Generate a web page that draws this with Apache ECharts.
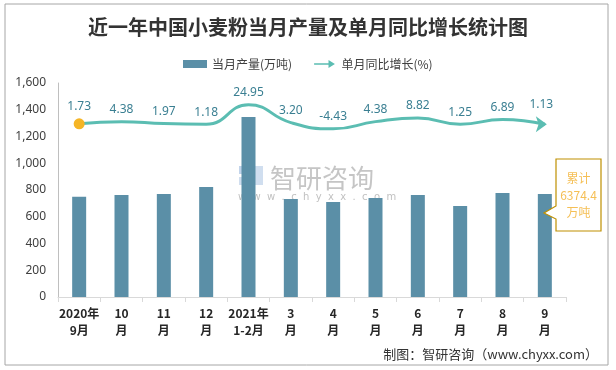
<!DOCTYPE html>
<html>
<head>
<meta charset="utf-8">
<script src="https://cdn.jsdelivr.net/npm/echarts@6/dist/echarts.min.js"></script>
<style>
html,body{margin:0;padding:0;background:#fff;}
#chart{width:616px;height:370px;}
</style>
</head>
<body>
<div id="chart"></div>
<script>
var categories = ['2020年\n9月','10\n月','11\n月','12\n月','2021年\n1-2月','3\n月','4\n月','5\n月','6\n月','7\n月','8\n月','9\n月'];
var production = [750, 762, 770, 822, 1346, 733, 710, 740, 762, 680, 778, 770];
var growth = [1.73, 4.38, 1.97, 1.18, 24.95, 3.20, -4.43, 4.38, 8.82, 1.25, 6.89, 1.13];
var yTicks = [0, 200, 400, 600, 800, 1000, 1200, 1400, 1600];
var cumulativeText = '累计\n6374.4\n万吨';

var CJK = '"Noto Sans CJK SC", "Noto Sans", sans-serif';
var lineColor = '#5BBDB2';
var barColor = '#5B8FA7';

var lineData = growth.map(function (v, i) {
  if (i === 0) return { value: v, symbol: 'circle', symbolSize: 11, itemStyle: { color: '#F5B526' } };
  if (i === growth.length - 1) return { value: v, symbol: 'arrow', symbolSize: [12, 11], symbolRotate: -90, symbolOffset: [2, 0], itemStyle: { color: lineColor } };
  return { value: v, symbol: 'circle', symbolSize: 0 };
});

var chart = echarts.init(document.getElementById('chart'));
chart.setOption({
  animation: false,
  backgroundColor: '#fff',
  title: {
    text: '近一年中国小麦粉当月产量及单月同比增长统计图',
    left: 'center', top: 12,
    textStyle: { fontFamily: CJK, fontSize: 20, fontWeight: 'bold', color: '#333' }
  },
  legend: {
    top: 53, left: 178,
    itemGap: 22, itemWidth: 24, itemHeight: 8,
    textStyle: { fontFamily: CJK, fontSize: 12, color: '#404040' },
    data: [
      { name: '当月产量(万吨)', icon: 'rect' },
      { name: '单月同比增长(%)', icon: 'path://M0,4 L18,4 L18,0 L26,5 L18,10 L18,6 L0,6 Z' }
    ]
  },
  grid: { left: 58, right: 50, top: 83, bottom: 73 },
  xAxis: {
    type: 'category',
    data: categories,
    axisLine: { lineStyle: { color: '#d9d9d9' } },
    axisTick: { show: true, length: 5, lineStyle: { color: '#d9d9d9' } },
    axisLabel: { interval: 0, fontFamily: CJK, fontSize: 12, fontWeight: 'bold', color: '#262626', lineHeight: 17, margin: 8 }
  },
  yAxis: [{
    type: 'value', min: yTicks[0], max: yTicks[yTicks.length - 1], interval: 200,
    axisLine: { show: true, lineStyle: { color: '#bfbfbf' } },
    axisTick: { show: false },
    splitLine: { show: false },
    axisLabel: {
      fontFamily: '"Noto Sans", sans-serif', fontSize: 12, color: '#404040', margin: 12,
      formatter: function (v) { return v.toLocaleString('en-US'); }
    }
  }, {
    type: 'value', min: -210, max: 51.6, show: false, splitLine: { show: false }
  }],
  series: [{
    name: '当月产量(万吨)',
    type: 'bar',
    data: production,
    barWidth: 14,
    itemStyle: { color: barColor },
    z: 3
  }, {
    name: '单月同比增长(%)',
    type: 'line',
    yAxisIndex: 1,
    data: lineData,
    smooth: 0.5,
    lineStyle: { color: lineColor, width: 3 },
    itemStyle: { color: lineColor },
    label: {
      show: true, position: 'top', distance: 6,
      fontFamily: '"Noto Sans", sans-serif', fontSize: 12, color: '#3A7F92',
      formatter: function (p) { return p.value.toFixed(2); }
    },
    z: 4
  }],
  graphic: [
    { type: 'rect', shape: { x: 5, y: 4, width: 603, height: 361 }, style: { fill: 'none', stroke: '#a6a6a6', lineWidth: 1 }, z: -10, silent: true },
    { type: 'rect', shape: { x: 239, y: 166, width: 10, height: 8 }, style: { fill: 'rgba(120,160,210,0.45)' }, z: 1, silent: true },
    { type: 'rect', shape: { x: 239, y: 177, width: 10, height: 8 }, style: { fill: 'rgba(120,160,210,0.35)' }, z: 1, silent: true },
    { type: 'rect', shape: { x: 252, y: 166, width: 11, height: 19 }, style: { fill: 'rgba(120,160,210,0.35)' }, z: 1, silent: true },
    { type: 'text', x: 270, y: 178, style: { text: '智研咨询', font: '26px ' + CJK, fill: 'rgba(150,150,150,0.55)', verticalAlign: 'middle' }, z: 1, silent: true },
    { type: 'text', x: 238, y: 197, style: { text: 'w  w  w  .  c  h  y  x  x  .  c  o  m', font: '10px "DejaVu Sans", sans-serif', fill: 'rgba(150,150,150,0.6)', verticalAlign: 'middle' }, z: 1, silent: true },
    { type: 'polygon', shape: { points: [[556,159],[601,159],[601,231],[556,231],[556,219],[544,213],[556,206]] }, style: { fill: '#fff', stroke: '#BF9000', lineWidth: 1.2 }, z: 10, silent: true },
    { type: 'text', x: 578.5, y: 195, style: { text: cumulativeText, font: '12px ' + CJK, fill: '#F5BF55', align: 'center', verticalAlign: 'middle', lineHeight: 17 }, z: 11, silent: true },
    { type: 'text', x: 598, y: 354, style: { text: '制图：智研咨询（www.chyxx.com）', font: '13px ' + CJK, fill: '#333', align: 'right', verticalAlign: 'middle' }, z: 10, silent: true }
  ]
});
</script>
</body>
</html>
